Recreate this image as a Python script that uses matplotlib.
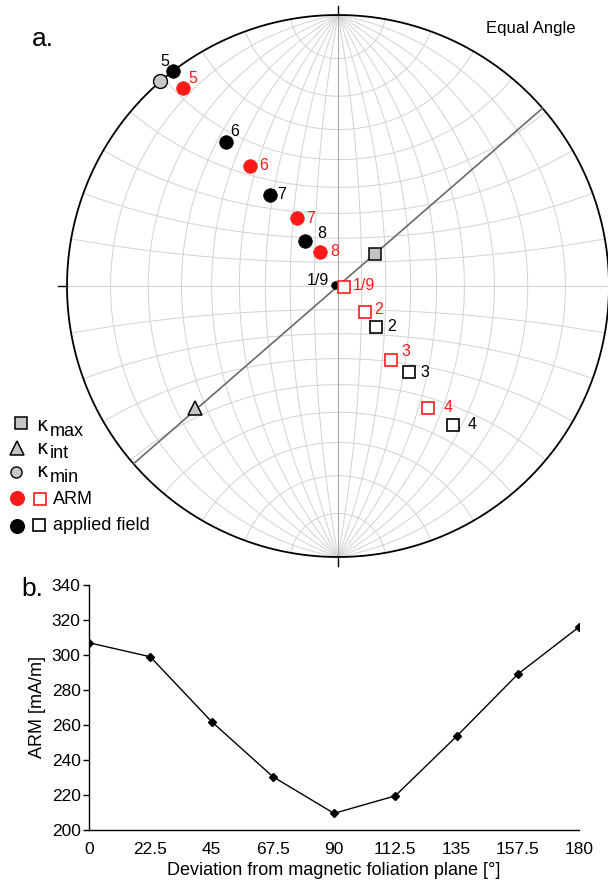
import numpy as np
import matplotlib
matplotlib.use('Agg')
import matplotlib.pyplot as plt

plt.rcParams['font.family'] = ['Liberation Sans', 'DejaVu Sans']

# AMS principal axes (trend, plunge in degrees): max, int, min
k_names = ['max', 'int', 'min']
k_trend = [49.5, 229.5, 319.0]
k_plunge = [69.5, 20.5, 0.0]

# applied field directions; upper hemisphere ones are drawn as open squares
field_labels = ['1/9', '2', '3', '4', '5', '6', '7', '8']
field_trend = [290.0, 137.0, 140.6, 140.5, 322.5, 322.0, 323.0, 324.0]
field_plunge = [88.7, 66.8, 45.2, 22.8, 0.0, 22.1, 44.5, 66.6]
field_upper = [False, True, True, True, False, False, False, False]

# resulting ARM directions
arm_labels = ['1/9', '2', '3', '4', '5', '6', '7', '8']
arm_trend = [102.0, 134.2, 144.1, 143.5, 322.0, 323.8, 329.0, 332.0]
arm_plunge = [87.3, 74.2, 52.8, 31.7, 4.3, 32.4, 57.5, 73.7]
arm_upper = [True, True, True, True, False, False, False, False]

# ARM intensity vs angle between field and magnetic foliation
deviation = [0, 22.5, 45, 67.5, 90, 112.5, 135, 157.5, 180]
arm_intensity = [307, 299, 262, 230.5, 209.5, 219.5, 253.5, 289, 316]
dev_ticklabels = ['0', '22.5', '45', '67.5', '90', '112.5', '135', '157.5', '180']

# label offsets in pixels (dx, dy, ha)
field_offsets = {'1/9': (-6, 4, 'right'), '2': (16, 0, 'center'), '3': (16, 0, 'center'),
                 '4': (20, 0, 'center'), '5': (-8, 10, 'center'), '6': (9, 11, 'center'),
                 '7': (12, 1, 'center'), '8': (17, 7, 'center')}
arm_offsets = {'1/9': (9, 2, 'left'), '2': (14, 3, 'center'), '3': (14, 8, 'center'),
               '4': (20, 0, 'center'), '5': (10, 9, 'center'), '6': (14, 0, 'center'),
               '7': (13, 0, 'center'), '8': (15, 0, 'center')}


def project(trend, plunge):
    # equal angle (Wulff) projection, lower hemisphere, unit radius
    t = np.radians(np.asarray(trend, float))
    p = np.radians(np.asarray(plunge, float))
    e = np.cos(p) * np.sin(t)
    n = np.cos(p) * np.cos(t)
    d = np.sin(p)
    return e / (1 + d), n / (1 + d)


def great_circle(strike, dip, num=241):
    th = np.linspace(0, np.pi, num)
    s = np.radians(strike)
    dp = np.radians(dip)
    de = np.cos(dp) * np.sin(s + np.pi / 2)
    dn = np.cos(dp) * np.cos(s + np.pi / 2)
    e = np.cos(th) * np.sin(s) + np.sin(th) * de
    n = np.cos(th) * np.cos(s) + np.sin(th) * dn
    d = np.sin(th) * np.sin(dp)
    return e / (1 + d), n / (1 + d)


def small_circle(alpha, sign, num=241):
    # cone of half angle alpha around the N (sign=1) or S (sign=-1) axis
    ph = np.linspace(0, np.pi, num)
    a = np.radians(alpha)
    e = np.sin(a) * np.cos(ph)
    n = sign * np.cos(a) * np.ones_like(ph)
    d = np.sin(a) * np.sin(ph)
    return e / (1 + d), n / (1 + d)


W, H = 608, 884
fig = plt.figure(figsize=(W / 100, H / 100), dpi=100)


def fx(x, y):
    return x / W, 1 - y / H


# ---- a. stereonet ----
cx, cy, R = 338, 286, 271
ax = fig.add_axes([(cx - R) / W, 1 - (cy + R) / H, 2 * R / W, 2 * R / H])
ax.set_xlim(-1, 1)
ax.set_ylim(-1, 1)
ax.set_aspect('equal')
ax.axis('off')

grid_kw = dict(color='#d2d2d2', lw=0.7, zorder=1)
for dip in range(10, 90, 10):
    for strike in (0, 180):
        ax.plot(*great_circle(strike, dip), **grid_kw)
for alpha in range(10, 91, 10):
    for sign in (1, -1):
        ax.plot(*small_circle(alpha, sign), **grid_kw)
ax.plot(*great_circle(0, 90), color='#a8a8a8', lw=0.8, zorder=1.5)

th = np.linspace(0, 2 * np.pi, 721)
ax.plot(np.cos(th), np.sin(th), color='black', lw=1.3, zorder=2, clip_on=False)
tl = 0.033
for (x0, y0, x1, y1) in [(0, 1, 0, 1 + tl), (0, -1, 0, -1 - tl),
                         (-1, 0, -1 - tl, 0), (1, 0, 1 + tl, 0)]:
    ax.plot([x0, x1], [y0, y1], color='black', lw=1.0, clip_on=False)

# plane of kmax and kint (pole = kmin)
ax.plot(*great_circle(k_trend[2] + 90, 90 - k_plunge[2]), color='#6a6a6a', lw=1.2, zorder=3)

kx, ky = project(k_trend, k_plunge)
ax.plot(kx[0], ky[0], marker='s', ms=8.6, mfc='#c4c4c4', mec='black', mew=1.1, ls='none', zorder=5, clip_on=False)
ax.plot(kx[1], ky[1], marker='^', ms=10, mfc='#c4c4c4', mec='black', mew=1.1, ls='none', zorder=5, clip_on=False)
ax.plot(kx[2], ky[2], marker='o', ms=10, mfc='#c8c8c8', mec='black', mew=1.0, ls='none', zorder=5, clip_on=False)


def draw_series(labels, trend, plunge, upper, color, offsets):
    xs, ys = project(trend, plunge)
    for lbl, x, y, up in zip(labels, xs, ys, upper):
        if up:
            ax.plot(x, y, marker='s', ms=8.4, mfc='white', mec=color, mew=1.2,
                    ls='none', zorder=6, clip_on=False)
        else:
            ms = 5.5 if lbl == '1/9' else 9.8
            ax.plot(x, y, marker='o', ms=ms, mfc=color, mec=color, mew=0.5,
                    ls='none', zorder=6, clip_on=False)
        dx, dy, ha = offsets[lbl]
        ax.annotate(lbl, (x, y), xytext=(dx, dy), textcoords='offset pixels',
                    ha=ha, va='center', fontsize=11.5, color=color, zorder=7)


draw_series(field_labels, field_trend, field_plunge, field_upper, 'black', field_offsets)
draw_series(arm_labels, arm_trend, arm_plunge, arm_upper, '#ff1a1a', arm_offsets)

fig.text(*fx(531, 29), 'Equal Angle', ha='center', va='center', fontsize=12)
fig.text(*fx(32, 39), 'a.', ha='left', va='center', fontsize=19)

# legend, drawn in pixel space
lg = fig.add_axes([0, 0, 1, 1])
lg.set_xlim(0, W)
lg.set_ylim(H, 0)
lg.axis('off')
lg.plot(20.5, 423, marker='s', ms=8.4, mfc='#c4c4c4', mec='black', mew=1.1)
lg.plot(16.7, 448, marker='^', ms=9.5, mfc='#c4c4c4', mec='black', mew=1.1)
lg.plot(16, 471.5, marker='o', ms=8, mfc='#c8c8c8', mec='black', mew=1.0)
for name, yb in zip(k_names, [431, 454, 477]):
    lg.text(36, yb, 'κ', fontsize=14, va='baseline', ha='left', family='DejaVu Sans')
    lg.text(50, yb + 4.5, name, fontsize=13, va='baseline', ha='left')
lg.plot(16.7, 497.5, marker='o', ms=9.8, mfc='#ff1a1a', mec='#ff1a1a')
lg.plot(40, 499, marker='s', ms=8.4, mfc='white', mec='#ff1a1a', mew=1.2)
lg.text(53, 499, 'ARM', fontsize=13, va='center', ha='left')
lg.plot(17.3, 525.5, marker='o', ms=9.8, mfc='black', mec='black')
lg.plot(39, 525, marker='s', ms=8.4, mfc='white', mec='black', mew=1.2)
lg.text(53, 525, 'applied field', fontsize=13, va='center', ha='left')

# ---- b. ARM intensity ----
bx = fig.add_axes([89 / W, 1 - 830 / H, 490 / W, 245 / H])
bx.plot(deviation, arm_intensity, color='black', lw=1.0, marker='D', ms=4.5, mfc='black', mec='black')
bx.set_xlim(0, 180)
bx.set_ylim(200, 340)
bx.set_yticks(range(200, 341, 20))
bx.set_xticks(deviation)
bx.set_xticklabels(dev_ticklabels)
bx.set_xticks([0, 180], minor=True)
bx.tick_params(axis='x', which='major', length=0, pad=9, labelsize=12.5)
bx.tick_params(axis='x', which='minor', length=5, width=1.0)
bx.tick_params(axis='y', length=4, width=1.0, pad=2, labelsize=12.5)
for side in ('top', 'right'):
    bx.spines[side].set_visible(False)
for side in ('left', 'bottom'):
    bx.spines[side].set_linewidth(1.0)
bx.set_xlabel('Deviation from magnetic foliation plane [°]', fontsize=13, labelpad=3)
bx.set_ylabel('ARM [mA/m]', fontsize=13, labelpad=4)
fig.text(*fx(21, 589), 'b.', ha='left', va='center', fontsize=19)

fig.savefig('out.png', dpi=100)
